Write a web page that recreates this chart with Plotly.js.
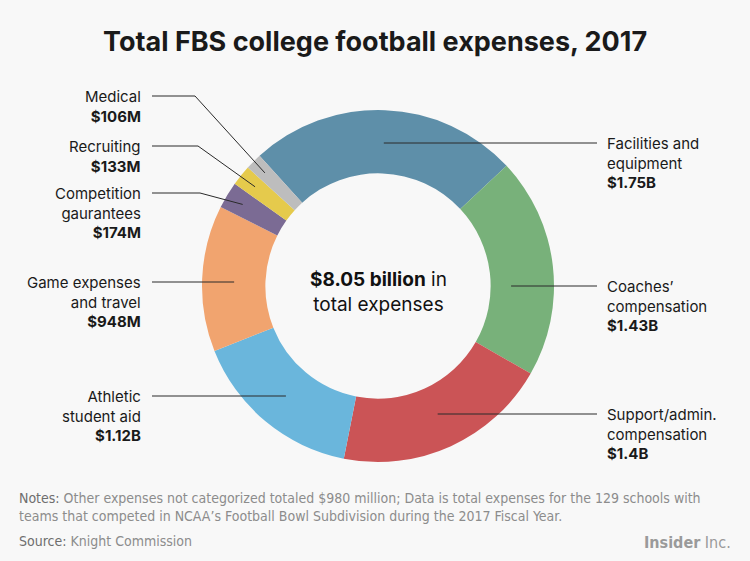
<!DOCTYPE html>
<html><head><meta charset="utf-8">
<script src="https://cdn.plot.ly/plotly-3.0.1.min.js"></script>
<style>html,body{margin:0;padding:0;background:#f8f8f8;}</style>
</head><body><div id="chart" style="width:750px;height:561px;"></div>
<script>
// ---- data ----
const categories = ["Facilities and equipment", "Coaches’ compensation", "Support/admin. compensation", "Athletic student aid", "Game expenses and travel", "Competition gaurantees", "Recruiting", "Medical"];
const valuesMillions = [1750, 1430, 1400, 1120, 948, 174, 133, 106];
const valueLabels = ["$1.75B", "$1.43B", "$1.4B", "$1.12B", "$948M", "$174M", "$133M", "$106M"];
const labelNameLines = [["Facilities and", "equipment"], ["Coaches’", "compensation"], ["Support/admin.", "compensation"], ["Athletic", "student aid"], ["Game expenses", "and travel"], ["Competition", "gaurantees"], ["Recruiting"], ["Medical"]];
const sliceColors = ["#5e8fa9", "#78b17a", "#cb5456", "#6ab6dc", "#f1a46f", "#7b6b94", "#e5ca4c", "#bdbdbd"];
const totalText = "<b>$8.05 billion</b> in<br>total expenses";

// ---- layout constants ----
const W = 750, H = 561;
const cx = 378, cy = 286, R = 176, hole = 0.64, rotation = -42.3;
const FONT = "Inter, 'Noto Sans', sans-serif";
// callout layout: side, y of first text line, endpoint radius, knee x (null = straight)
const callouts = [
  {side: "right", y: 143, r: 144, knee: null},
  {side: "right", y: 286, r: 134, knee: null},
  {side: "right", y: 414, r: 144, knee: null},
  {side: "left",  y: 396, r: 144, knee: null},
  {side: "left",  y: 282, r: 144, knee: null},
  {side: "left",  y: 193, r: 158, knee: 200},
  {side: "left",  y: 146, r: 158, knee: 198},
  {side: "left",  y: 96,  r: 160, knee: 195}
];
const px = x => x / W, py = y => 1 - y / H;

const total = valuesMillions.reduce((a, b) => a + b, 0);
const shapes = [], annotations = [];
let cum = 0;
valuesMillions.forEach((v, i) => {
  const mid = (rotation + (cum + v / 2) / total * 360) * Math.PI / 180;
  cum += v;
  const c = callouts[i];
  const ex = cx + c.r * Math.sin(mid);
  let ey = cy - c.r * Math.cos(mid);
  const sx = c.side === "right" ? 597 : 152;
  let path;
  if (c.knee === null) {
    ey = c.y;
    path = `M${px(sx)},${py(c.y)} L${px(ex)},${py(ey)}`;
  } else {
    path = `M${px(sx)},${py(c.y)} L${px(c.knee)},${py(c.y)} L${px(ex)},${py(ey)}`;
  }
  shapes.push({type: "path", xref: "paper", yref: "paper", path: path, line: {color: "#2a2a2a", width: 1}});
  const txt = labelNameLines[i].join("<br>") + "<br><b>" + valueLabels[i] + "</b>";
  annotations.push({
    xref: "paper", yref: "paper", showarrow: false,
    x: c.side === "right" ? px(605) : px(143),
    y: py(c.y - 11), xanchor: c.side === "right" ? "left" : "right", yanchor: "top",
    align: c.side === "right" ? "left" : "right", text: txt, font: {family: FONT, size: 15, color: "#1a1a1a"}
  });
});

annotations.push({xref: "paper", yref: "paper", showarrow: false, x: px(378), y: py(292), xanchor: "center", yanchor: "middle",
  text: totalText, font: {family: FONT, size: 19, color: "#111"}});
annotations.push({xref: "paper", yref: "paper", showarrow: false, x: px(375), y: py(42), xanchor: "center", yanchor: "middle",
  text: "<b>Total FBS college football expenses, 2017</b>", font: {family: FONT, size: 27, color: "#1a1a1a"}});
const FOOT = "'Liberation Sans Narrow', 'DejaVu Sans Condensed', Roboto, sans-serif";
annotations.push({xref: "paper", yref: "paper", showarrow: false, x: px(17), y: py(488), xanchor: "left", yanchor: "top", align: "left",
  text: "<span style='color:#6e6e6e'>Notes:</span> Other expenses not categorized totaled $980 million; Data is total expenses for the 129 schools with<br>teams that competed in NCAA’s Football Bowl Subdivision during the 2017 Fiscal Year.",
  font: {family: FOOT, size: 14, color: "#8c8c8c"}});
annotations.push({xref: "paper", yref: "paper", showarrow: false, x: px(17), y: py(541), xanchor: "left", yanchor: "middle", align: "left",
  text: "<span style='color:#6e6e6e'>Source:</span> Knight Commission", font: {family: FOOT, size: 14, color: "#8c8c8c"}});
annotations.push({xref: "paper", yref: "paper", showarrow: false, x: px(733), y: py(542), xanchor: "right", yanchor: "middle", align: "right",
  text: "<b>Insider</b> Inc.", font: {family: FOOT, size: 16, color: "#9a9a9a"}});

const trace = {
  type: "pie", labels: categories, values: valuesMillions, sort: false, direction: "clockwise",
  rotation: rotation, hole: hole, textinfo: "none", hoverinfo: "label+value",
  marker: {colors: sliceColors, line: {width: 0}},
  domain: {x: [px(cx - R), px(cx + R)], y: [py(cy + R), py(cy - R)]}
};
const layout = {
  width: W, height: H, margin: {l: 0, r: 0, t: 0, b: 0}, showlegend: false,
  paper_bgcolor: "#f8f8f8", plot_bgcolor: "#f8f8f8", shapes: shapes, annotations: annotations
};
Plotly.newPlot("chart", [trace], layout, {displayModeBar: false, staticPlot: true});
</script></body></html>
